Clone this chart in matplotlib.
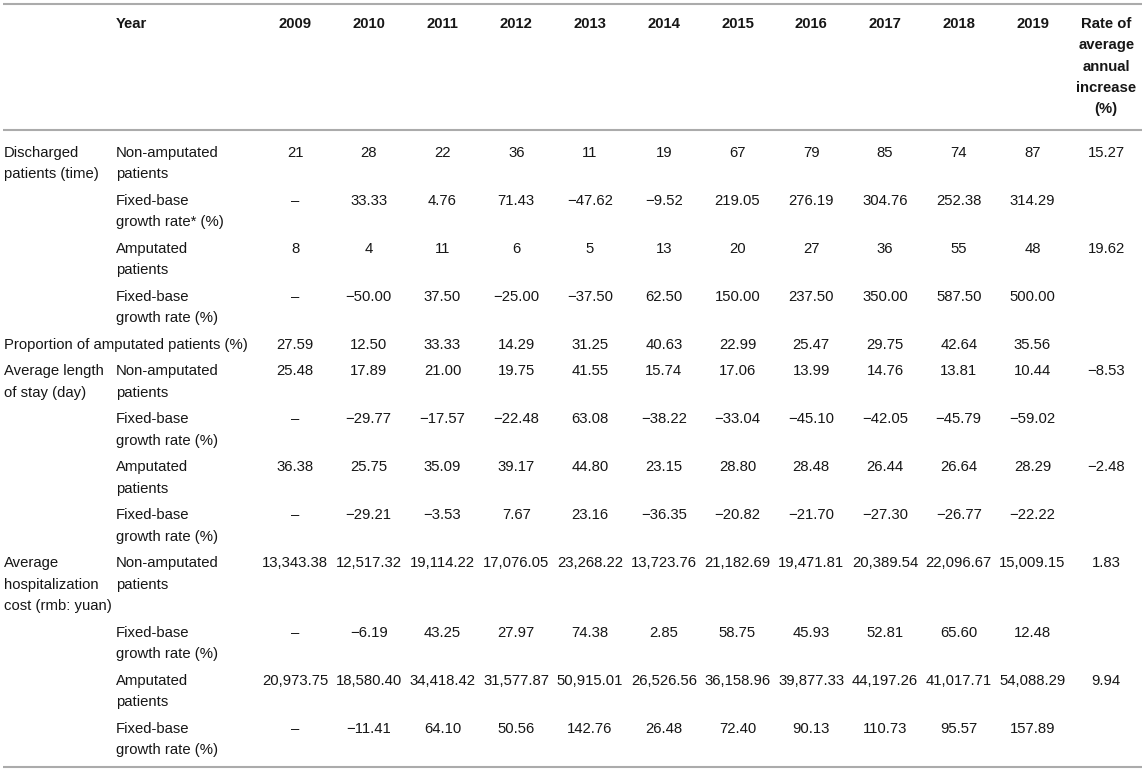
import matplotlib
matplotlib.use("Agg")
import matplotlib.pyplot as plt

# ---------------- data ----------------
years = ["2009", "2010", "2011", "2012", "2013", "2014", "2015", "2016", "2017", "2018", "2019"]
rate_header = ["Rate of", "average", "annual", "increase", "(%)"]

group_labels = [
    "Discharged\npatients (time)", "", "", "",
    "Proportion of amputated patients (%)",
    "Average length\nof stay (day)", "", "", "",
    "Average\nhospitalization\ncost (rmb: yuan)", "", "", "",
]
row_labels = [
    "Non-amputated\npatients", "Fixed-base\ngrowth rate* (%)", "Amputated\npatients", "Fixed-base\ngrowth rate (%)",
    "",
    "Non-amputated\npatients", "Fixed-base\ngrowth rate (%)", "Amputated\npatients", "Fixed-base\ngrowth rate (%)",
    "Non-amputated\npatients", "Fixed-base\ngrowth rate (%)", "Amputated\npatients", "Fixed-base\ngrowth rate (%)",
]

discharged_non_amputated = [21, 28, 22, 36, 11, 19, 67, 79, 85, 74, 87]
discharged_non_amputated_growth = [None, 33.33, 4.76, 71.43, -47.62, -9.52, 219.05, 276.19, 304.76, 252.38, 314.29]
discharged_amputated = [8, 4, 11, 6, 5, 13, 20, 27, 36, 55, 48]
discharged_amputated_growth = [None, -50.00, 37.50, -25.00, -37.50, 62.50, 150.00, 237.50, 350.00, 587.50, 500.00]
proportion_amputated = [27.59, 12.50, 33.33, 14.29, 31.25, 40.63, 22.99, 25.47, 29.75, 42.64, 35.56]
stay_non_amputated = [25.48, 17.89, 21.00, 19.75, 41.55, 15.74, 17.06, 13.99, 14.76, 13.81, 10.44]
stay_non_amputated_growth = [None, -29.77, -17.57, -22.48, 63.08, -38.22, -33.04, -45.10, -42.05, -45.79, -59.02]
stay_amputated = [36.38, 25.75, 35.09, 39.17, 44.80, 23.15, 28.80, 28.48, 26.44, 26.64, 28.29]
stay_amputated_growth = [None, -29.21, -3.53, 7.67, 23.16, -36.35, -20.82, -21.70, -27.30, -26.77, -22.22]
cost_non_amputated = [13343.38, 12517.32, 19114.22, 17076.05, 23268.22, 13723.76, 21182.69, 19471.81, 20389.54, 22096.67, 15009.15]
cost_non_amputated_growth = [None, -6.19, 43.25, 27.97, 74.38, 2.85, 58.75, 45.93, 52.81, 65.60, 12.48]
cost_amputated = [20973.75, 18580.40, 34418.42, 31577.87, 50915.01, 26526.56, 36158.96, 39877.33, 44197.26, 41017.71, 54088.29]
cost_amputated_growth = [None, -11.41, 64.10, 50.56, 142.76, 26.48, 72.40, 90.13, 110.73, 95.57, 157.89]

rate_of_increase = [15.27, None, 19.62, None, None, -8.53, None, -2.48, None, 1.83, None, 9.94, None]

table_rows = [
    discharged_non_amputated, discharged_non_amputated_growth,
    discharged_amputated, discharged_amputated_growth,
    proportion_amputated,
    stay_non_amputated, stay_non_amputated_growth,
    stay_amputated, stay_amputated_growth,
    cost_non_amputated, cost_non_amputated_growth,
    cost_amputated, cost_amputated_growth,
]


def fmt(v):
    if v is None:
        return "\u2013"
    if isinstance(v, int):
        s = str(v)
    else:
        s = f"{v:,.2f}"
    return s.replace("-", "\u2212")


# ---------------- layout ----------------
W, H = 1145, 772
fig = plt.figure(figsize=(W / 100, H / 100), dpi=100)
ax = fig.add_axes([0, 0, 1, 1])
ax.set_xlim(0, W)
ax.set_ylim(H, 0)
ax.axis("off")

FONT = ["Liberation Sans", "DejaVu Sans"]
FS = 10.7
TXT = "#161616"
LINE_H = 21.4
PAD = 5.2
BASE_OFF = 5.3  # baseline below visual centre of the cap height

x_group = 4
x_label = 116
col_x0 = 295
col_step = 73.75
col_centres = [col_x0 + i * col_step for i in range(len(years) + 1)]


def put(x, yc, s, ha="left", bold=False):
    ax.text(x, yc + BASE_OFF, s, ha=ha, va="baseline", fontsize=FS,
            family=FONT, color=TXT, fontweight="bold" if bold else "normal")


def put_lines(x, yc, s, ha="left", bold=False):
    for k, line in enumerate(s.split("\n")):
        if line:
            put(x, yc + k * LINE_H, line, ha=ha, bold=bold)


# rules
rule_kw = dict(color="#ababab", lw=1.5, solid_capstyle="butt")
ax.plot([3, 1142], [4, 4], **rule_kw)
ax.plot([3, 1142], [130, 130], **rule_kw)
ax.plot([3, 1142], [767, 767], **rule_kw)

# header
head_y = 22.5
put(x_label, head_y, "Year", bold=True)
for i, yr in enumerate(years):
    put(col_centres[i], head_y, yr, ha="center", bold=True)
for k, line in enumerate(rate_header):
    put(col_centres[-1], head_y + k * LINE_H, line, ha="center", bold=True)

# body
y = 151.5
for r in range(len(table_rows)):
    g = group_labels[r]
    lab = row_labels[r]
    nlines = max(len(g.split("\n")) if g else 1, len(lab.split("\n")) if lab else 1)
    if g:
        put_lines(x_group, y, g)
    if lab:
        put_lines(x_label, y, lab)
    for i, v in enumerate(table_rows[r]):
        put(col_centres[i], y, fmt(v), ha="center")
    if rate_of_increase[r] is not None:
        put(col_centres[-1], y, fmt(rate_of_increase[r]), ha="center")
    y += nlines * LINE_H + PAD

fig.savefig("out.png", dpi=100)
